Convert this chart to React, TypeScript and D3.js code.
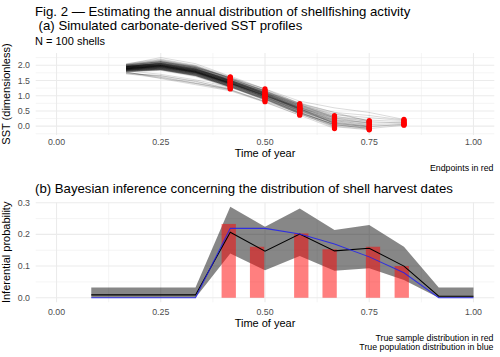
import React from "react";
import * as d3 from "d3";

// ---------- Data ----------
const timeTicks = [0, 0.25, 0.5, 0.75, 1];
const timeTickLabels = ["0.00", "0.25", "0.50", "0.75", "1.00"];
const timeMinor = [0.125, 0.375, 0.625, 0.875];
const sstTicks = [0, 0.5, 1, 1.5, 2];
const sstTickLabels = ["0.0", "0.5", "1.0", "1.5", "2.0"];
const sstMinor = [-0.25, 0.25, 0.75, 1.25, 1.75, 2.25];
const probTicks = [0, 0.1, 0.2, 0.3];
const probTickLabels = ["0.0", "0.1", "0.2", "0.3"];
const probMinor = [0.05, 0.15, 0.25];

// sampling times of the SST profiles (Feb .. Oct, as fraction of year)
const profileTimes = [0.1667, 0.25, 0.3333, 0.4167, 0.5, 0.5833, 0.6667, 0.75, 0.8333];

// 100 simulated profiles, each ends at its harvest date (red endpoint)
const profilesEnd5 = [
  [1.92, 2.05, 1.85, 1.55], [1.85, 1.95, 1.78, 1.40], [1.98, 2.10, 1.92, 1.60], [1.80, 1.88, 1.70, 1.30],
  [1.95, 2.02, 1.86, 1.48], [1.88, 1.98, 1.80, 1.42], [1.72, 1.66, 1.46, 1.24], [2.02, 2.15, 1.95, 1.58],
  [1.90, 1.96, 1.76, 1.36], [1.84, 1.90, 1.72, 1.33], [1.96, 2.08, 1.90, 1.52], [1.78, 1.85, 1.65, 1.27],
  [1.93, 2.00, 1.82, 1.45], [1.87, 1.93, 1.74, 1.38], [2.00, 2.12, 1.96, 1.57], [1.82, 1.87, 1.68, 1.30],
  [1.91, 2.03, 1.84, 1.47], [1.72, 1.58, 1.40, 1.22], [1.97, 2.06, 1.88, 1.50], [1.86, 1.99, 1.79, 1.43],
  [1.89, 1.94, 1.77, 1.39], [2.05, 2.20, 2.00, 1.62], [1.83, 1.91, 1.73, 1.35],
];
const profilesEnd6 = [
  [1.90, 2.00, 1.82, 1.45, 1.05], [1.85, 1.92, 1.75, 1.38, 0.95], [1.95, 2.08, 1.90, 1.52, 1.15],
  [1.80, 1.86, 1.66, 1.30, 0.85], [1.93, 2.03, 1.85, 1.48, 1.08], [1.88, 1.97, 1.78, 1.40, 1.00],
  [1.76, 1.62, 1.42, 1.20, 0.80], [2.00, 2.12, 1.93, 1.56, 1.17], [1.91, 1.99, 1.80, 1.43, 1.02],
  [1.84, 1.89, 1.71, 1.34, 0.92], [1.97, 2.05, 1.87, 1.50, 1.10], [1.82, 1.70, 1.52, 1.28, 0.88],
  [1.89, 1.95, 1.77, 1.41, 0.98], [1.94, 2.01, 1.83, 1.46, 1.06], [1.86, 1.93, 1.74, 1.36, 0.96],
  [2.03, 2.25, 2.05, 1.64, 1.22],
];
const profilesEnd7 = [
  [1.90, 1.99, 1.81, 1.44, 1.04, 0.58], [1.86, 1.93, 1.75, 1.37, 0.96, 0.48], [1.95, 2.07, 1.89, 1.51, 1.12, 0.68],
  [1.80, 1.85, 1.66, 1.29, 0.88, 0.40], [1.93, 2.02, 1.84, 1.47, 1.07, 0.62], [1.88, 1.96, 1.78, 1.40, 1.00, 0.54],
  [1.78, 1.56, 1.36, 1.16, 0.78, 0.36], [1.99, 2.11, 1.92, 1.55, 1.16, 0.70], [1.91, 1.98, 1.79, 1.42, 1.02, 0.56],
  [1.84, 1.90, 1.71, 1.34, 0.93, 0.46], [1.96, 2.04, 1.86, 1.49, 1.09, 0.64], [1.83, 1.88, 1.69, 1.32, 0.91, 0.44],
  [1.89, 1.97, 1.77, 1.41, 1.01, 0.55], [1.94, 2.01, 1.83, 1.46, 1.06, 0.60], [1.87, 1.94, 1.76, 1.39, 0.98, 0.51],
  [2.01, 2.14, 1.95, 1.60, 1.22, 0.74], [1.92, 2.00, 1.82, 1.45, 1.05, 0.59], [1.74, 1.65, 1.48, 1.20, 0.82, 0.42],
  [1.85, 1.91, 1.73, 1.36, 0.95, 0.50], [1.97, 2.06, 1.88, 1.50, 1.10, 0.66],
];
const profilesEnd8 = [
  [1.90, 1.98, 1.80, 1.43, 1.03, 0.57, 0.15], [1.86, 1.92, 1.74, 1.37, 0.95, 0.48, 0.02],
  [1.95, 2.06, 1.88, 1.50, 1.11, 0.68, 0.30], [1.81, 1.86, 1.67, 1.30, 0.89, 0.41, -0.05],
  [1.93, 2.02, 1.84, 1.47, 1.07, 0.62, 0.22], [1.88, 1.95, 1.77, 1.40, 0.99, 0.53, 0.10],
  [1.77, 1.60, 1.40, 1.18, 0.80, 0.36, -0.08], [1.99, 2.10, 1.92, 1.54, 1.15, 0.72, 0.35],
  [1.91, 1.99, 1.80, 1.42, 1.01, 0.55, 0.12], [1.84, 1.89, 1.71, 1.33, 0.92, 0.45, 0.00],
  [1.96, 2.04, 1.86, 1.49, 1.09, 0.65, 0.26], [1.83, 1.88, 1.69, 1.32, 0.90, 0.43, 0.05],
  [1.89, 1.96, 1.78, 1.41, 1.00, 0.60, 0.18], [1.94, 2.00, 1.82, 1.45, 1.05, 0.58, 0.08],
  [2.02, 2.18, 1.98, 1.57, 1.14, 0.70, 0.28],
];
const profilesEnd9 = [
  [1.90, 1.98, 1.80, 1.43, 1.03, 0.57, 0.15, 0.02], [1.86, 1.93, 1.75, 1.38, 0.96, 0.50, 0.05, -0.08],
  [1.95, 2.07, 1.89, 1.51, 1.12, 0.70, 0.32, 0.15], [1.80, 1.85, 1.66, 1.30, 0.88, 0.42, -0.02, -0.12],
  [1.93, 2.02, 1.84, 1.47, 1.07, 0.63, 0.22, 0.08], [1.88, 1.96, 1.78, 1.40, 1.00, 0.54, 0.10, -0.03],
  [1.78, 1.83, 1.63, 1.27, 0.86, 0.40, 0.00, -0.10], [1.99, 2.11, 1.93, 1.55, 1.16, 0.74, 0.40, 0.18],
  [1.91, 1.99, 1.80, 1.42, 1.02, 0.56, 0.13, 0.00], [1.84, 1.90, 1.71, 1.34, 0.93, 0.46, 0.03, -0.06],
  [1.96, 2.05, 1.87, 1.49, 1.09, 0.66, 0.27, 0.10], [1.82, 1.87, 1.68, 1.31, 0.90, 0.44, 0.06, -0.05],
  [1.89, 1.96, 1.77, 1.41, 1.00, 0.58, 0.18, 0.05], [1.94, 2.01, 1.83, 1.46, 1.06, 0.61, 0.20, 0.12],
  [1.87, 1.94, 1.76, 1.39, 0.97, 0.52, 0.08, -0.02], [2.02, 2.16, 1.97, 1.59, 1.18, 0.76, 0.45, 0.16],
];
const profilesEnd10 = [
  [1.90, 1.99, 1.81, 1.44, 1.04, 0.60, 0.25, 0.10, 0.12], [1.86, 1.92, 1.74, 1.37, 0.96, 0.52, 0.12, 0.00, 0.05],
  [1.95, 2.08, 1.90, 1.52, 1.13, 0.74, 0.45, 0.35, 0.20], [1.81, 1.86, 1.67, 1.30, 0.89, 0.45, 0.05, -0.08, 0.03],
  [1.93, 2.03, 1.85, 1.48, 1.08, 0.66, 0.32, 0.20, 0.15], [1.88, 1.96, 1.77, 1.40, 0.99, 0.56, 0.18, 0.05, 0.08],
  [1.99, 2.12, 1.93, 1.58, 1.22, 0.82, 0.60, 0.45, 0.22], [1.84, 1.90, 1.71, 1.34, 0.93, 0.50, 0.10, -0.02, 0.06],
  [1.96, 2.05, 1.87, 1.50, 1.10, 0.70, 0.38, 0.28, 0.18], [1.91, 1.98, 1.80, 1.42, 1.02, 0.62, 0.28, 0.15, 0.10],
];

// panel (b)
const posteriorTimes = [0.0833, 0.1667, 0.25, 0.3333, 0.4167, 0.5, 0.5833, 0.6667, 0.75, 0.8333, 0.9167, 1.0];
const posteriorMean = [0.009, 0.009, 0.009, 0.009, 0.207, 0.147, 0.201, 0.148, 0.156, 0.100, 0.005, 0.005];
const posteriorUpper = [0.032, 0.032, 0.032, 0.032, 0.287, 0.224, 0.282, 0.214, 0.230, 0.161, 0.032, 0.032];
const posteriorLower = [0.0, 0.0, 0.0, 0.0, 0.140, 0.087, 0.132, 0.085, 0.093, 0.056, 0.0, 0.0];
const populationDist = [0, 0, 0, 0, 0.219, 0.219, 0.201, 0.170, 0.129, 0.079, 0, 0];
const sampleTimes = [0.413, 0.481, 0.587, 0.655, 0.759, 0.828];
const sampleProportions = [0.233, 0.161, 0.203, 0.153, 0.161, 0.100];
const sampleBarWidth = 0.0343;

// ---------- Layout ----------
const W = 500;
const H = 357;
const FONT = "'Liberation Sans', Arial, Helvetica, sans-serif";
const GRID = "#EBEBEB";
const TICK_COL = "#4D4D4D";

export default function App() {
  const x = d3.scaleLinear().domain([-0.05, 1.05]).range([35.7, 494.3]);
  const ya = d3.scaleLinear().domain([-0.29, 2.4]).range([135, 53]);
  const yb = d3.scaleLinear().domain([-0.0144, 0.301]).range([302.3, 202.4]);

  const allProfiles = [
    ...profilesEnd5, ...profilesEnd6, ...profilesEnd7,
    ...profilesEnd8, ...profilesEnd9, ...profilesEnd10,
  ];

  const profileLine = d3
    .line<number>()
    .x((_, i) => x(profileTimes[i]))
    .y((v) => ya(v));

  const ribbon = d3
    .area<number>()
    .x((_, i) => x(posteriorTimes[i]))
    .y0((_, i) => yb(posteriorLower[i]))
    .y1((_, i) => yb(posteriorUpper[i]));
  const meanLine = d3
    .line<number>()
    .x((_, i) => x(posteriorTimes[i]))
    .y((v) => yb(v));

  const [xa0, xa1] = x.range();

  const panelGrid = (y: d3.ScaleLinear<number, number>, major: number[], minor: number[]) => {
    const [yBottom, yTop] = y.range();
    return (
      <g>
        {minor.map((v) => (
          <line key={"hm" + v} x1={xa0} x2={xa1} y1={y(v)} y2={y(v)} stroke={GRID} strokeWidth={0.55} />
        ))}
        {timeMinor.map((v) => (
          <line key={"vm" + v} x1={x(v)} x2={x(v)} y1={yTop} y2={yBottom} stroke={GRID} strokeWidth={0.55} />
        ))}
        {major.map((v) => (
          <line key={"hM" + v} x1={xa0} x2={xa1} y1={y(v)} y2={y(v)} stroke={GRID} strokeWidth={1.07} />
        ))}
        {timeTicks.map((v) => (
          <line key={"vM" + v} x1={x(v)} x2={x(v)} y1={yTop} y2={yBottom} stroke={GRID} strokeWidth={1.07} />
        ))}
      </g>
    );
  };

  return (
    <svg
      width={W}
      height={H}
      viewBox={`0 0 ${W} ${H}`}
      style={{ position: "absolute", left: 0, top: 0, background: "#fff" }}
      fontFamily={FONT}
    >
      <rect x={0} y={0} width={W} height={H} fill="#fff" />

      {/* Titles */}
      <text x={35} y={15.7} fontSize={13.2} fill="#000">
        Fig. 2 — Estimating the annual distribution of shellfishing activity
      </text>
      <text x={38.6} y={29.6} fontSize={13.2} fill="#000">
        (a) Simulated carbonate-derived SST profiles
      </text>
      <text x={35} y={45.2} fontSize={11} fill="#000">
        N = 100 shells
      </text>

      {/* Panel (a) */}
      {panelGrid(ya, sstTicks, sstMinor)}
      <g>
        {allProfiles.map((p, i) => (
          <path key={"p" + i} d={profileLine(p) || ""} fill="none" stroke="#000" strokeOpacity={0.26} strokeWidth={0.55} />
        ))}
        {allProfiles.map((p, i) => (
          <circle key={"e" + i} cx={x(profileTimes[p.length - 1])} cy={ya(p[p.length - 1])} r={2.6} fill="#FF0000" />
        ))}
      </g>
      {sstTicks.map((v, i) => (
        <text key={"sy" + v} x={30} y={ya(v)} dy="0.35em" textAnchor="end" fontSize={8.8} fill={TICK_COL}>
          {sstTickLabels[i]}
        </text>
      ))}
      {timeTicks.map((v, i) => (
        <text key={"ax" + v} x={x(v)} y={144.5} textAnchor="middle" fontSize={8.8} fill={TICK_COL}>
          {timeTickLabels[i]}
        </text>
      ))}
      <text x={x(0.5)} y={157} textAnchor="middle" fontSize={11} fill="#000">
        Time of year
      </text>
      <text transform={`translate(9.5,${(53 + 135) / 2}) rotate(-90)`} textAnchor="middle" fontSize={11} fill="#000">
        SST (dimensionless)
      </text>
      <text x={493.5} y={171} textAnchor="end" fontSize={8.8} fill="#000">
        Endpoints in red
      </text>

      {/* Panel (b) */}
      <text x={35} y={193.4} fontSize={13.2} fill="#000">
        (b) Bayesian inference concerning the distribution of shell harvest dates
      </text>
      {panelGrid(yb, probTicks, probMinor)}
      <path d={ribbon(posteriorMean) || ""} fill="#000" fillOpacity={0.47} stroke="none" />
      {sampleTimes.map((t, i) => (
        <rect
          key={"b" + i}
          x={x(t - sampleBarWidth / 2)}
          width={x(t + sampleBarWidth / 2) - x(t - sampleBarWidth / 2)}
          y={yb(sampleProportions[i])}
          height={yb(0) - yb(sampleProportions[i])}
          fill="#FF0000"
          fillOpacity={0.5}
        />
      ))}
      <path d={meanLine(posteriorMean) || ""} fill="none" stroke="#000" strokeWidth={1.05} />
      <path d={meanLine(populationDist) || ""} fill="none" stroke="#2020F0" strokeOpacity={0.85} strokeWidth={1.05} />
      {probTicks.map((v, i) => (
        <text key={"py" + v} x={30} y={yb(v)} dy="0.35em" textAnchor="end" fontSize={8.8} fill={TICK_COL}>
          {probTickLabels[i]}
        </text>
      ))}
      {timeTicks.map((v, i) => (
        <text key={"bx" + v} x={x(v)} y={314.5} textAnchor="middle" fontSize={8.8} fill={TICK_COL}>
          {timeTickLabels[i]}
        </text>
      ))}
      <text x={x(0.5)} y={326.7} textAnchor="middle" fontSize={11} fill="#000">
        Time of year
      </text>
      <text transform={`translate(9.5,${(202.4 + 302.3) / 2}) rotate(-90)`} textAnchor="middle" fontSize={11} fill="#000">
        Inferential probability
      </text>
      <text x={493.5} y={340.5} textAnchor="end" fontSize={8.8} fill="#000">
        True sample distribution in red
      </text>
      <text x={493.5} y={350} textAnchor="end" fontSize={8.8} fill="#000">
        True population distribution in blue
      </text>
    </svg>
  );
}
